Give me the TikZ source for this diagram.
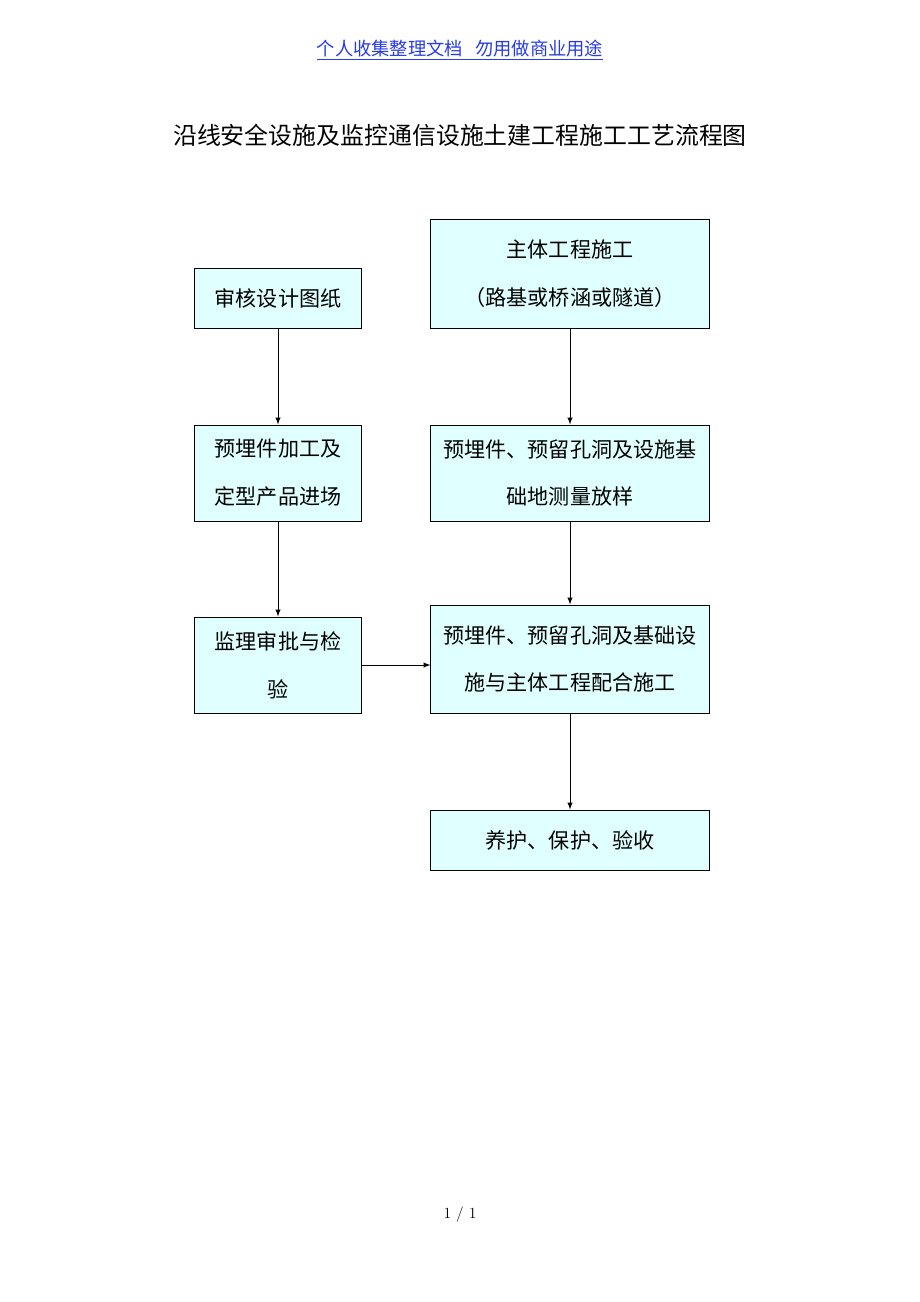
\documentclass[tikz,border=0pt]{standalone}
\usepackage{fontspec}
\newfontfamily\cjk{Noto Sans CJK SC}
\usetikzlibrary{arrows,positioning}
\definecolor{boxfill}{RGB}{224,255,255}
\definecolor{headblue}{RGB}{40,60,230}
\tikzset{
    stage/.style={draw=black, line width=0.7pt, fill=boxfill, align=center,
        font=\cjk\fontsize{15}{34}\selectfont, inner sep=0pt},
    flow/.style={draw, line width=0.7pt, -latex},
}
\begin{document}
\begin{tikzpicture}[x=0.025cm, y=-0.025cm]
    \useasboundingbox (0,0) rectangle (920,1302);
    \node (head) at (460,50) {\cjk\fontsize{13}{13}\selectfont\color{headblue}\underline{个人收集整理文档\ \ \ 勿用做商业用途}};
    \node (title) at (460,135) {\cjk\fontsize{17}{17}\selectfont 沿线安全设施及监控通信设施土建工程施工工艺流程图};
	% left column
	\node[stage, text width=4.15cm, minimum height=1.5cm] (review) at (278,298) {审核设计图纸};
	\node[stage, text width=4.15cm, minimum height=2.4cm] (parts) at (278,473) {预埋件加工及\\定型产品进场};
	\node[stage, text width=4.15cm, minimum height=2.4cm] (check) at (278,665) {监理审批与检\\验};
	% right column
	\node[stage, text width=6.95cm, minimum height=2.7cm] (main) at (570,274) {主体工程施工\\（路基或桥涵或隧道）};
	\node[stage, text width=6.95cm, minimum height=2.4cm] (survey) at (570,473) {预埋件、预留孔洞及设施基\\础地测量放样};
	\node[stage, text width=6.95cm, minimum height=2.7cm] (build) at (570,659) {预埋件、预留孔洞及基础设\\施与主体工程配合施工};
	\node[stage, text width=6.95cm, minimum height=1.5cm] (cure) at (570,840) {养护、保护、验收};
	\draw[flow] (review) -- (parts);
	\draw[flow] (parts) -- (check);
	\draw[flow] (main) -- (survey);
	\draw[flow] (survey) -- (build);
	\draw[flow] (build) -- (cure);
	\draw[flow] (check.east) -- (check.east -| build.west);
    \node (page) at (460,1215) {\fontsize{11}{11}\selectfont 1 / 1};
\end{tikzpicture}
\end{document}
